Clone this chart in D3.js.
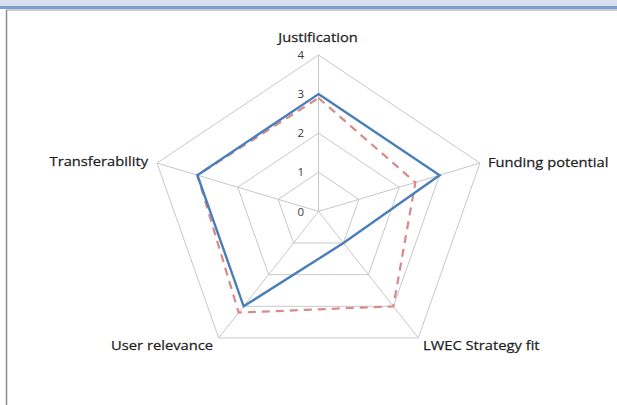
<!DOCTYPE html>
<html>
<head>
<meta charset="utf-8">
<script src="https://cdn.jsdelivr.net/npm/d3@7"></script>
<style>
  html, body { margin: 0; padding: 0; background: #fff; }
  svg { display: block; }
</style>
</head>
<body>
<div id="chart"></div>
<script>
// radar chart data
const categories = ['Justification', 'Funding potential', 'LWEC Strategy fit', 'User relevance', 'Transferability'];
const seriesA = [3, 3, 1, 3, 3];        // solid blue
const seriesB = [2.9, 2.4, 3, 3.2, 3];  // dashed red
const tickValues = [0, 1, 2, 3, 4];

const width = 617;
const height = 405;
const cx = 318.5;
const cy = 211.4;
const rx = 169.8;   // picture is a bit stretched horizontally
const ry = 156.4;
const stretch = 1.09;

const svg = d3.select('#chart').append('svg')
  .attr('width', width)
  .attr('height', height);

// window frame
svg.append('rect').attr('x', 0).attr('y', 0).attr('width', width).attr('height', 7).attr('fill', '#d5dfee');
svg.append('rect').attr('x', 0).attr('y', 6).attr('width', width).attr('height', 3).attr('fill', '#7c9fcf');
svg.append('line').attr('x1', 6).attr('x2', width).attr('y1', 10).attr('y2', 10)
  .attr('stroke', '#9a9a9a').attr('stroke-width', 1);
svg.append('line').attr('x1', 6.5).attr('x2', 6.5).attr('y1', 10).attr('y2', height)
  .attr('stroke', '#8a8a8a').attr('stroke-width', 1.5);

const r = d3.scaleLinear().domain([0, 4]).range([0, 1]);
const angle = d3.scaleLinear().domain([0, categories.length]).range([0, 2 * Math.PI]);

function px(i, v) { return cx + r(v) * rx * Math.sin(angle(i)); }
function py(i, v) { return cy - r(v) * ry * Math.cos(angle(i)); }

const g = svg.append('g');

// grid rings
tickValues.filter(d => d > 0).forEach(t => {
  const pts = categories.map((c, i) => [px(i, t), py(i, t)]);
  g.append('path')
    .attr('d', d3.line().curve(d3.curveLinearClosed)(pts))
    .attr('fill', 'none')
    .attr('stroke', '#c8c8c8')
    .attr('stroke-width', 1);
});

// spokes
categories.forEach((c, i) => {
  g.append('line')
    .attr('x1', cx).attr('y1', cy)
    .attr('x2', px(i, 4)).attr('y2', py(i, 4))
    .attr('stroke', '#c8c8c8')
    .attr('stroke-width', 1);
});

// value axis labels
const yScale = d3.scaleLinear().domain([0, 4]).range([cy, cy - ry]);
const yAxis = d3.axisLeft(yScale).tickValues(tickValues).tickSize(0).tickPadding(0).tickFormat(d3.format('d'));
const ax = g.append('g')
  .attr('transform', 'translate(' + 304 + ',0)')
  .call(yAxis);
ax.select('.domain').remove();
ax.selectAll('text')
  .attr('font-family', '"Open Sans", sans-serif')
  .attr('font-size', 11.5)
  .attr('fill', '#3a3a3a');

// category labels
const labelPos = [
  { x: 318, y: 37, anchor: 'middle' },
  { x: 488, y: 162, anchor: 'start' },
  { x: 423, y: 345, anchor: 'start' },
  { x: 213, y: 345, anchor: 'end' },
  { x: 148, y: 161, anchor: 'end' }
];
g.selectAll('.cat')
  .data(categories)
  .enter().append('text')
    .attr('class', 'cat')
    .attr('transform', (d, i) => 'translate(' + labelPos[i].x + ',' + labelPos[i].y + ') scale(' + stretch + ',1)')
    .attr('dy', '0.35em')
    .attr('text-anchor', (d, i) => labelPos[i].anchor)
    .attr('font-family', '"Open Sans", sans-serif')
    .attr('font-size', 13.5)
    .attr('fill', '#1f1f1f')
    .attr('stroke', '#1f1f1f')
    .attr('stroke-width', 0.25)
    .text(d => d);

// series
const radarLine = d3.line()
  .x(d => px(d.i, d.v))
  .y(d => py(d.i, d.v))
  .curve(d3.curveLinearClosed);

g.append('path')
  .attr('d', radarLine(seriesB.map((v, i) => ({ i, v }))))
  .attr('fill', 'none')
  .attr('stroke', '#d88b8a')
  .attr('stroke-width', 2.25)
  .attr('stroke-dasharray', '8,6');

g.append('path')
  .attr('d', radarLine(seriesA.map((v, i) => ({ i, v }))))
  .attr('fill', 'none')
  .attr('stroke', '#4a7ebb')
  .attr('stroke-width', 2.4)
  .attr('stroke-linejoin', 'miter');
</script>
</body>
</html>
